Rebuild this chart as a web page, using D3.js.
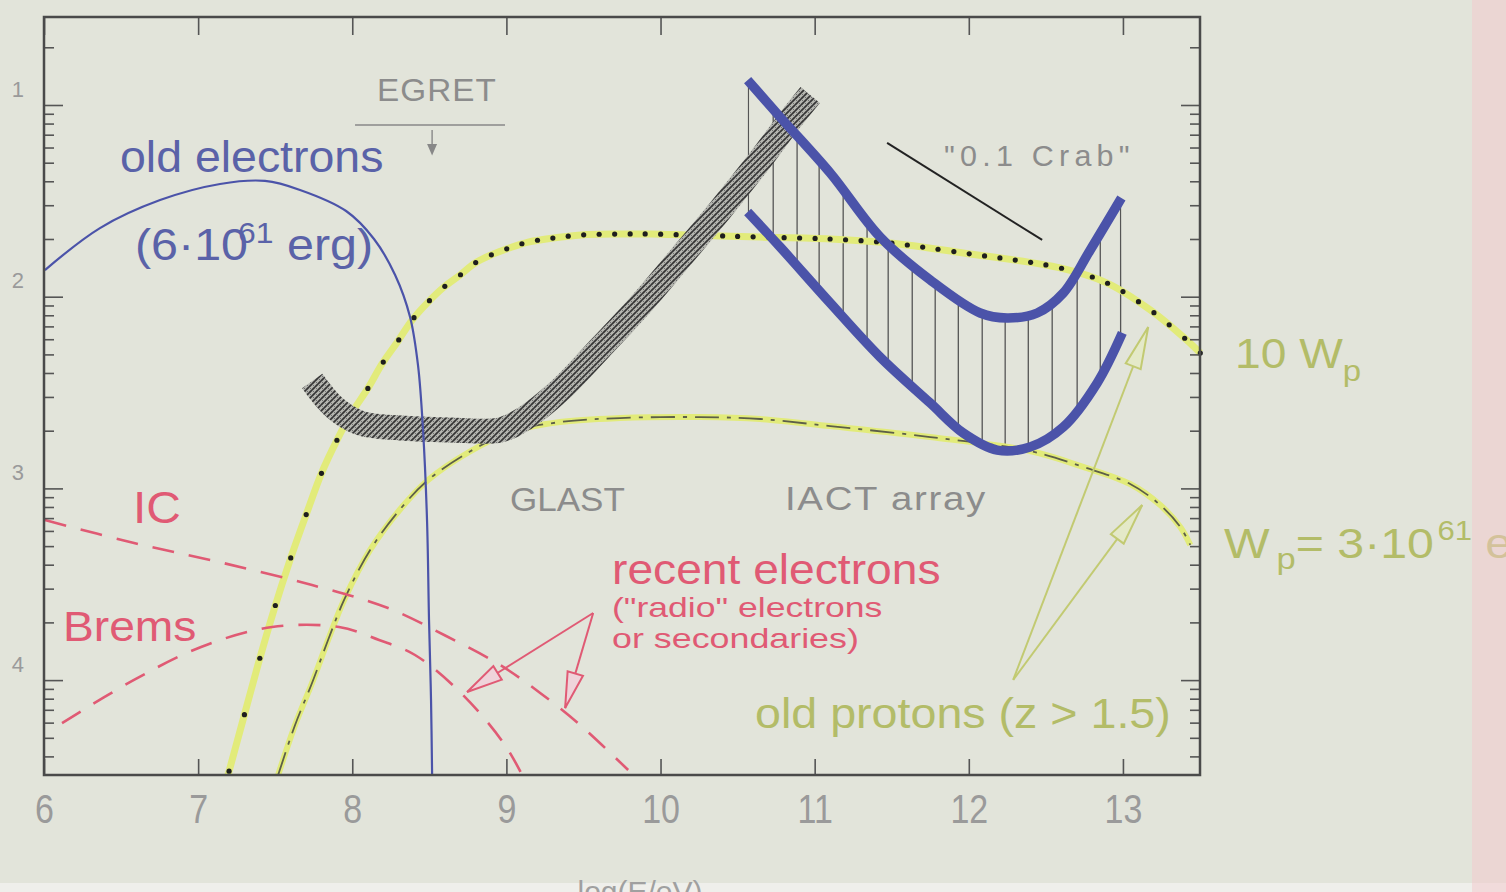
<!DOCTYPE html>
<html>
<head>
<meta charset="utf-8">
<script src="https://cdn.jsdelivr.net/npm/d3@7.9.0/dist/d3.min.js"></script>
<style>
  html, body { margin: 0; padding: 0; background: #e2e4da; overflow: hidden; }
  svg { display: block; font-family: "Liberation Sans", Arial, sans-serif; }
</style>
</head>
<body>
<svg id="chart" width="1506" height="892"></svg>
<script>
// axis values: x = log(E/eV), y = decade number (1 at top)
const xTicks = [6, 7, 8, 9, 10, 11, 12, 13];
const yTicks = [1, 2, 3, 4];

// curves, [logE, y]
const oldElectrons = [
  [6.006, 1.861], [6.363, 1.642], [6.753, 1.496], [7.142, 1.412], [7.434, 1.396],
  [7.661, 1.443], [7.960, 1.553], [8.141, 1.699], [8.278, 1.887], [8.375, 2.106],
  [8.427, 2.361], [8.459, 2.695], [8.485, 3.165], [8.498, 3.687], [8.511, 4.104],
  [8.518, 4.495]
];
const protons10Wp = [
  [7.194, 4.495], [7.291, 4.208], [7.388, 3.921], [7.492, 3.634], [7.596, 3.374],
  [7.700, 3.139], [7.804, 2.914], [7.901, 2.748], [7.992, 2.612], [8.103, 2.476],
  [8.193, 2.351], [8.297, 2.231], [8.388, 2.122], [8.492, 2.028], [8.596, 1.949],
  [8.700, 1.887], [8.797, 1.824], [8.901, 1.782], [9.018, 1.746], [9.141, 1.715],
  [9.303, 1.694], [9.485, 1.678], [9.712, 1.673], [9.939, 1.673], [10.166, 1.678],
  [10.393, 1.683], [10.646, 1.689], [11.101, 1.699], [11.490, 1.720], [11.964, 1.772],
  [12.593, 1.850], [12.898, 1.929], [13.177, 2.069], [13.391, 2.210], [13.502, 2.294]
];
const protonsWp = [
  [7.519, 4.495], [7.629, 4.234], [7.739, 4.015], [7.843, 3.791], [7.947, 3.582],
  [8.116, 3.321], [8.323, 3.097], [8.492, 2.956], [8.758, 2.810], [9.024, 2.706],
  [9.348, 2.654], [9.738, 2.633], [10.257, 2.628], [10.646, 2.638], [11.101, 2.675],
  [11.750, 2.732], [12.398, 2.805], [12.742, 2.888], [13.047, 2.977], [13.242, 3.087],
  [13.372, 3.201], [13.437, 3.295]
];
const glastBand = [
  [7.740, 2.440], [7.888, 2.581], [8.051, 2.659], [8.310, 2.685], [8.635, 2.695],
  [8.959, 2.695], [9.121, 2.633], [9.348, 2.487], [9.608, 2.268], [9.868, 2.043],
  [10.127, 1.798], [10.387, 1.548], [10.646, 1.287], [10.841, 1.078], [10.971, 0.948]
];
const iactUpper = [
  [10.565, 0.870], [10.776, 1.063], [11.101, 1.355], [11.425, 1.689], [11.750, 1.913],
  [12.074, 2.085], [12.249, 2.111], [12.444, 2.085], [12.613, 1.981], [12.788, 1.756],
  [12.990, 1.485]
];
const iactLower = [
  [10.565, 1.558], [10.776, 1.741], [11.101, 2.033], [11.425, 2.315], [11.750, 2.555],
  [11.964, 2.711], [12.184, 2.800], [12.398, 2.784], [12.613, 2.680], [12.833, 2.450],
  [12.996, 2.189]
];
const iactHatchX = [10.57, 10.731, 10.886, 11.029, 11.185, 11.340, 11.477, 11.633, 11.782,
  11.932, 12.087, 12.236, 12.386, 12.541, 12.703, 12.853, 12.985];
const icLine = [
  [6.006, 3.165], [6.584, 3.285], [7.162, 3.389], [7.739, 3.504], [8.232, 3.624],
  [8.609, 3.770], [8.959, 3.921], [9.219, 4.067], [9.478, 4.234], [9.790, 4.469]
];
const bremsLine = [
  [6.117, 4.224], [6.584, 3.999], [7.019, 3.827], [7.480, 3.723], [7.914, 3.723],
  [8.174, 3.791], [8.407, 3.869], [8.719, 4.078], [8.991, 4.339], [9.102, 4.495]
];

// annotation segments, [from, to]
const redArrows = [[[9.563, 3.650], [8.745, 4.062]], [[9.563, 3.650], [9.381, 4.146]]];
const greenArrows = [[[12.288, 3.999], [13.164, 2.158]], [[12.288, 3.999], [13.125, 3.087]]];
const crabLine = [[11.470, 1.198], [12.476, 1.704]];
const egretBar = [[8.018, 1.104], [8.991, 1.104]];
const egretArrow = [[8.518, 1.130], [8.518, 1.250]];

const svg = d3.select("#chart");
const x = d3.scaleLinear().domain([6, 13.5]).range([44, 1200]);
const y = d3.scaleLinear().domain([0.541, 4.495]).range([17, 775]);

const line = d3.line().x(d => x(d[0])).y(d => y(d[1])).curve(d3.curveCatmullRom.alpha(0.5));
const straight = d3.line().x(d => x(d[0])).y(d => y(d[1]));

const BLUE = "#4b53a9", RED = "#e05a74", YEL = "#e2eb7a", GREEN = "#b3bc68", GRAY = "#8c8c8c";

svg.append("rect").attr("width", 1506).attr("height", 892).attr("fill", "#e2e4da");

const defs = svg.append("defs");
const pat = defs.append("pattern").attr("id", "glastHatch")
  .attr("width", 6).attr("height", 6).attr("patternUnits", "userSpaceOnUse");
pat.append("rect").attr("width", 6).attr("height", 6).attr("fill", "#b5b6b0");
pat.append("path").attr("d", "M0,6L6,0M-1.5,1.5L1.5,-1.5M4.5,7.5L7.5,4.5")
  .attr("stroke", "#353535").attr("stroke-width", 1.8);
pat.append("path").attr("d", "M0,0L6,6M-1.5,4.5L1.5,7.5M4.5,-1.5L7.5,1.5")
  .attr("stroke", "#666").attr("stroke-width", 0.9);

function head(id, color, fill, len, wid) {
  defs.append("marker").attr("id", id)
    .attr("markerUnits", "userSpaceOnUse")
    .attr("viewBox", `-3 -3 ${len + 6} ${wid + 6}`)
    .attr("markerWidth", len + 6).attr("markerHeight", wid + 6)
    .attr("refX", len).attr("refY", wid / 2).attr("orient", "auto")
    .append("path").attr("d", `M0,0L${len},${wid / 2}L0,${wid}Z`)
    .attr("fill", fill).attr("stroke", color).attr("stroke-width", 2);
}
head("redHead", RED, "#efd3da", 36, 16);
head("greenHead", "#c2ca72", "#e4e9c8", 42, 16);
head("egretHead", "#888", "#888", 8, 7);

// IACT sensitivity hatching between the two thick curves
const clipPoly = iactUpper.concat(iactLower.slice().reverse());
defs.append("clipPath").attr("id", "iactClip")
  .append("path").attr("d", straight(clipPoly) + "Z");
svg.append("g").attr("clip-path", "url(#iactClip)")
  .selectAll("line").data(iactHatchX).join("line")
  .attr("x1", d => x(d)).attr("x2", d => x(d))
  .attr("y1", y(0.8)).attr("y2", y(3.0))
  .attr("stroke", "#555").attr("stroke-width", 1.3);

// proton curves (yellow) with black dotted / dash-dot overlays
const p10 = svg.append("path").datum(protons10Wp).attr("d", line)
  .attr("fill", "none").attr("stroke", YEL).attr("stroke-width", 7);

// dots of the "10 W_p" curve sit every 0.1 in log E along the drawn curve
const dotStep = 0.1;
const pathNode = p10.node();
const total = pathNode.getTotalLength();
const dots = [];
let nextX = Math.ceil(x.invert(pathNode.getPointAtLength(0).x) / dotStep) * dotStep;
for (let l = 0; l <= total; l += 0.5) {
  const pt = pathNode.getPointAtLength(l);
  if (x.invert(pt.x) >= nextX - 1e-9) {
    dots.push(pt);
    nextX += dotStep;
  }
}
svg.append("g").selectAll("circle").data(dots).join("circle")
  .attr("cx", d => d.x).attr("cy", d => d.y).attr("r", 2.6).attr("fill", "#1e1e1e");

svg.append("path").datum(protonsWp).attr("d", line)
  .attr("fill", "none").attr("stroke", YEL).attr("stroke-width", 6);
svg.append("path").datum(protonsWp).attr("d", line)
  .attr("fill", "none").attr("stroke", "#3c3c3c").attr("stroke-width", 1.8)
  .attr("stroke-dasharray", "24 8 4 8").attr("opacity", 0.8);

// GLAST sensitivity band
svg.append("path").datum(glastBand).attr("d", line)
  .attr("fill", "none").attr("stroke", "url(#glastHatch)").attr("stroke-width", 25);

// old electrons
svg.append("path").datum(oldElectrons).attr("d", line)
  .attr("fill", "none").attr("stroke", BLUE).attr("stroke-width", 2.2);

// IACT thick curves
[iactUpper, iactLower].forEach(c => {
  svg.append("path").datum(c).attr("d", line)
    .attr("fill", "none").attr("stroke", BLUE).attr("stroke-width", 9.5);
});

// IC and Brems (red dashed)
[icLine, bremsLine].forEach(c => {
  svg.append("path").datum(c).attr("d", line)
    .attr("fill", "none").attr("stroke", RED).attr("stroke-width", 2.6)
    .attr("stroke-dasharray", "22 15");
});

// annotation arrows and lines
redArrows.forEach(a => {
  svg.append("path").attr("d", straight(a)).attr("stroke", RED).attr("stroke-width", 2)
    .attr("fill", "none").attr("marker-end", "url(#redHead)");
});
greenArrows.forEach(a => {
  svg.append("path").attr("d", straight(a)).attr("stroke", "#c2ca72").attr("stroke-width", 2)
    .attr("fill", "none").attr("marker-end", "url(#greenHead)");
});
svg.append("path").attr("d", straight(crabLine)).attr("stroke", "#222").attr("stroke-width", 2);
svg.append("path").attr("d", straight(egretBar)).attr("stroke", "#888").attr("stroke-width", 1.6);
svg.append("path").attr("d", straight(egretArrow)).attr("stroke", "#888").attr("stroke-width", 1.4)
  .attr("marker-end", "url(#egretHead)");

// text labels (the scanned lettering is a little wider than the font, hence sx)
function label(px, py, parts, color, size, sx, extra) {
  const t = svg.append("text")
    .attr("transform", `translate(${px},${py}) scale(${sx},1)`)
    .attr("fill", color).attr("font-size", size);
  if (extra) Object.entries(extra).forEach(([k, v]) => t.attr(k, v));
  parts.forEach(p => {
    const s = t.append("tspan").text(p.t);
    if (p.size) s.attr("font-size", p.size);
    if (p.dy) s.attr("dy", p.dy);
    if (p.dx) s.attr("dx", p.dx);
  });
  return t;
}
label(120, 172, [{t: "old electrons"}], "#5a62a8", 44, 1.056);
label(135, 260, [{t: "(6·10"}, {t: "61", size: 29, dy: -17, dx: -9}, {t: " erg)", dy: 17}], "#5a62a8", 44, 1.1);
label(377, 101, [{t: "EGRET"}], GRAY, 32, 1.04, {"letter-spacing": 1});
label(944, 166, [{t: "\"0.1 Crab\""}], GRAY, 29, 1.05, {"letter-spacing": 5});
label(510, 511, [{t: "GLAST"}], GRAY, 34, 1.03);
label(785, 510, [{t: "IACT array"}], GRAY, 34, 1.13, {"letter-spacing": 1.5});
label(133, 523, [{t: "IC"}], RED, 44, 1.09);
label(63, 641, [{t: "Brems"}], RED, 42, 1.1);
label(612, 584, [{t: "recent electrons"}], RED, 42, 1.1);
label(612, 617, [{t: "(\"radio\" electrons"}], RED, 28, 1.27);
label(612, 648, [{t: "or secondaries)"}], RED, 28, 1.28);
label(1235, 368, [{t: "10 W"}, {t: "p", size: 30, dy: 13}], GREEN, 42, 1.1);
label(1224, 558, [{t: "W"}, {t: "p", size: 30, dy: 11, dx: 6}, {t: "= 3·10", dy: -11}, {t: "61", size: 27, dy: -18, dx: 3}, {t: " erg", dy: 18}], GREEN, 42, 1.15);
label(755, 728, [{t: "old protons (z > 1.5)"}], GREEN, 42, 1.11);

// scan edges
svg.append("rect").attr("x", 0).attr("y", 883).attr("width", 1506).attr("height", 9).attr("fill", "#efefeb");
svg.append("text").attr("x", 640).attr("y", 902).attr("text-anchor", "middle")
  .attr("fill", "#a0a0a0").attr("font-size", 30).text("log(E/eV)");
svg.append("rect").attr("x", 1472).attr("y", 0).attr("width", 34).attr("height", 892)
  .attr("fill", "#f4c8cc").attr("opacity", 0.5);

// axes: ticks point inward on all four sides
const yMinor = [];
for (let n = 1; n <= 5; n++) {
  for (let k = 2; k <= 9; k++) {
    const v = n - Math.log10(k);
    if (v > y.domain()[0] && v < y.domain()[1]) yMinor.push(v);
  }
}

function styleAxis(g) {
  g.select(".domain").remove();
  g.selectAll(".tick line").attr("stroke", "#555").attr("stroke-width", 1.6);
  g.selectAll(".tick text").attr("fill", "#9a9a9a").attr("font-family", "\"Liberation Sans\", Arial, sans-serif");
}

svg.append("g").attr("transform", `translate(0,${y.range()[1]})`)
  .call(d3.axisBottom(x).tickValues(xTicks).tickSize(-16).tickPadding(20).tickFormat(d3.format("d")))
  .call(styleAxis)
  .call(g => g.selectAll(".tick text").attr("font-size", 40).attr("transform", "scale(0.85,1)"));
svg.append("g").attr("transform", `translate(0,${y.range()[0]})`)
  .call(d3.axisTop(x).tickValues(xTicks).tickSize(-18).tickFormat(""))
  .call(styleAxis);
svg.append("g").attr("transform", `translate(${x.range()[0]},0)`)
  .call(d3.axisLeft(y).tickValues(yTicks).tickSize(-19).tickPadding(20).tickFormat(d3.format("d")))
  .call(styleAxis)
  .call(g => g.selectAll(".tick text").attr("font-size", 22).attr("dy", "-0.4em"));
svg.append("g").attr("transform", `translate(${x.range()[0]},0)`)
  .call(d3.axisLeft(y).tickValues(yMinor).tickSize(-10).tickFormat(""))
  .call(styleAxis);
svg.append("g").attr("transform", `translate(${x.range()[1]},0)`)
  .call(d3.axisRight(y).tickValues(yTicks).tickSize(-19).tickFormat(""))
  .call(styleAxis);
svg.append("g").attr("transform", `translate(${x.range()[1]},0)`)
  .call(d3.axisRight(y).tickValues(yMinor).tickSize(-10).tickFormat(""))
  .call(styleAxis);

svg.append("rect")
  .attr("x", x.range()[0]).attr("y", y.range()[0])
  .attr("width", x.range()[1] - x.range()[0]).attr("height", y.range()[1] - y.range()[0])
  .attr("fill", "none").attr("stroke", "#4a4a4a").attr("stroke-width", 2.5);
</script>
</body>
</html>
